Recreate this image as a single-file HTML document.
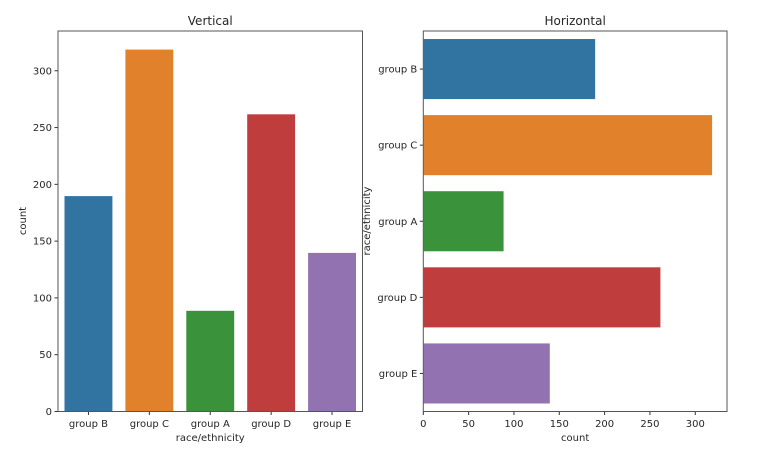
<!DOCTYPE html>
<html><head><meta charset="utf-8"><style>
body{margin:0;background:#fff}
svg{display:block;font-family:"DejaVu Sans","Liberation Sans",sans-serif}
</style></head><body>
<svg id="c" width="773" height="451"></svg>
<script>
const categories=["group B","group C","group A","group D","group E"];
const counts=[190,319,89,262,140];
const colors=["#3274a1","#e1812c","#3a923a","#c03d3e","#9372b2"];
const ticks=[0,50,100,150,200,250,300];
const NS="http://www.w3.org/2000/svg";
const svg=document.getElementById('c');
function mk(t,a,txt){const e=document.createElementNS(NS,t);for(const k in a)e.setAttribute(k,a[k]);if(txt!==undefined)e.textContent=txt;svg.appendChild(e);return e;}
const max=335;
// Vertical
const L={x0:58,x1:362.5,y0:31,y1:411.5};
const vy=v=>L.y1-v/max*(L.y1-L.y0);
const slotV=(L.x1-L.x0)/categories.length;
categories.forEach((c,i)=>{
 const x=L.x0+slotV*(i+0.1),y=vy(counts[i]);
 const r=mk('rect',{x:x,y:y,width:slotV*0.8,height:L.y1-y,fill:colors[i],stroke:'#fff','stroke-width':0.8});
 
 
 const cx=L.x0+slotV*(i+0.5);
 mk('line',{x1:cx,x2:cx,y1:L.y1,y2:L.y1+3.5,stroke:'#333'});
 const t=mk('text',{x:cx,y:427,'font-size':10,'text-anchor':'middle',fill:'#262626'},c);
 
 
});
ticks.forEach(v=>{
 const y=vy(v);
 mk('line',{x1:L.x0-3.5,x2:L.x0,y1:y,y2:y,stroke:'#333'});
 const t=mk('text',{x:L.x0-6,y:y+3.5,'font-size':10,'text-anchor':'end',fill:'#262626'},v);
 
 
});
let e=mk('rect',{x:L.x0,y:L.y0,width:L.x1-L.x0,height:L.y1-L.y0,fill:'none',stroke:'#555','stroke-width':1});

e=mk('text',{x:(L.x0+L.x1)/2,y:25,'font-size':12,'text-anchor':'middle',fill:'#262626'},'Vertical');

e=mk('text',{x:(L.x0+L.x1)/2,y:441,'font-size':10,'text-anchor':'middle',fill:'#262626'},'race/ethnicity');

e=mk('text',{x:0,y:0,'font-size':10,'text-anchor':'middle',fill:'#262626',transform:'translate(26,221) rotate(-90)'},'count');

// Horizontal
const R={x0:423.3,x1:727,y0:31,y1:411.5};
const hx=v=>R.x0+v/max*(R.x1-R.x0);
const slotH=(R.y1-R.y0)/categories.length;
categories.forEach((c,i)=>{
 const y=R.y0+slotH*(i+0.1);
 const r=mk('rect',{x:R.x0,y:y,width:hx(counts[i])-R.x0,height:slotH*0.8,fill:colors[i],stroke:'#fff','stroke-width':0.8});
 
 
 const cy=R.y0+slotH*(i+0.5);
 mk('line',{x1:R.x0-3.5,x2:R.x0,y1:cy,y2:cy,stroke:'#333'});
 const t=mk('text',{x:R.x0-6,y:cy+3.5,'font-size':10,'text-anchor':'end',fill:'#262626'},c);
 
 
});
ticks.forEach(v=>{
 const x=hx(v);
 mk('line',{x1:x,x2:x,y1:R.y1,y2:R.y1+3.5,stroke:'#333'});
 const t=mk('text',{x:x,y:427,'font-size':10,'text-anchor':'middle',fill:'#262626'},v);
 
 
});
e=mk('rect',{x:R.x0,y:R.y0,width:R.x1-R.x0,height:R.y1-R.y0,fill:'none',stroke:'#555','stroke-width':1});

e=mk('text',{x:(R.x0+R.x1)/2,y:25,'font-size':12,'text-anchor':'middle',fill:'#262626'},'Horizontal');

e=mk('text',{x:(R.x0+R.x1)/2,y:441,'font-size':10,'text-anchor':'middle',fill:'#262626'},'count');

e=mk('text',{x:0,y:0,'font-size':10,'text-anchor':'middle',fill:'#262626',transform:'translate(370,221) rotate(-90)'},'race/ethnicity');

</script>
</body></html>
